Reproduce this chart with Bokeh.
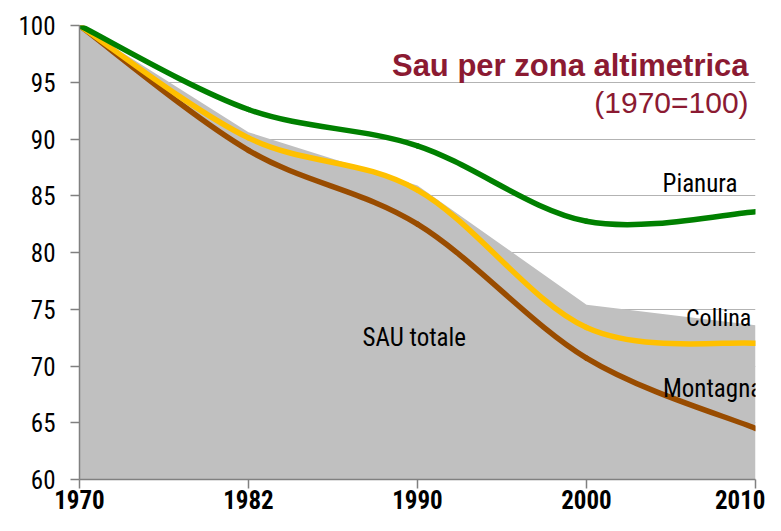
from bokeh.plotting import figure
from bokeh.models import FixedTicker, Label, Range1d
from bokeh.embed import file_html
from bokeh.resources import INLINE

years = ["1970", "1982", "1990", "2000", "2010"]
sau_totale = [100, 90.6, 85.9, 75.4, 73.6]
pianura = [100, 92.6, 89.4, 82.75, 83.6]
collina = [100, 90.1, 85.5, 73.4, 72.0]
montagna = [100, 89.0, 82.5, 70.7, 64.5]
y_ticks = [60, 65, 70, 75, 80, 85, 90, 95, 100]

NARROW = "Roboto Condensed"
SANS = "Liberation Sans"

xs = list(range(len(years)))

p = figure(width=765, height=515, output_backend="svg", toolbar_location=None,
           x_range=Range1d(0, len(years) - 1), y_range=Range1d(60, 100),
           min_border_left=79, min_border_right=10, min_border_top=25, min_border_bottom=36)
p.outline_line_color = None
p.background_fill_color = "white"
p.border_fill_color = "white"

p.xgrid.grid_line_color = None
p.ygrid.grid_line_color = "#b3b3b3"
p.ygrid.grid_line_width = 1
p.ygrid.ticker = FixedTicker(ticks=y_ticks)

# total area
p.varea(x=xs, y1=[60] * len(xs), y2=sau_totale, fill_color="#c0c0c0")


def smooth(ax, vals, color):
    n = len(vals)
    x0, y0, x1, y1, cx0, cy0, cx1, cy1 = [], [], [], [], [], [], [], []
    for i in range(n - 1):
        im = max(i - 1, 0)
        ip2 = min(i + 2, n - 1)
        x0.append(i); y0.append(vals[i])
        x1.append(i + 1); y1.append(vals[i + 1])
        cx0.append(i + (i + 1 - im) / 6.0); cy0.append(vals[i] + (vals[i + 1] - vals[im]) / 6.0)
        cx1.append(i + 1 - (ip2 - i) / 6.0); cy1.append(vals[i + 1] - (vals[ip2] - vals[i]) / 6.0)
    ax.bezier(x0=x0, y0=y0, x1=x1, y1=y1, cx0=cx0, cy0=cy0, cx1=cx1, cy1=cy1,
              line_color=color, line_width=5.5, line_cap="round")


smooth(p, montagna, "#994c00")
smooth(p, collina, "#ffc000")
smooth(p, pianura, "#008000")

# axes
p.yaxis.ticker = FixedTicker(ticks=y_ticks)
p.yaxis.axis_line_color = "#808080"
p.yaxis.axis_line_width = 1.5
p.yaxis.major_tick_line_color = "#808080"
p.yaxis.major_tick_line_width = 1.5
p.yaxis.major_tick_out = 9
p.yaxis.major_tick_in = 0
p.yaxis.minor_tick_line_color = None
p.yaxis.major_label_text_font = NARROW
p.yaxis.major_label_text_font_size = "25px"
p.yaxis.major_label_text_color = "black"
p.yaxis.major_label_standoff = 15

p.xaxis.ticker = FixedTicker(ticks=xs)
p.xaxis.major_label_overrides = {i: y for i, y in enumerate(years)}
p.xaxis.axis_line_color = "#808080"
p.xaxis.axis_line_width = 1.5
p.xaxis.major_tick_line_color = "#808080"
p.xaxis.major_tick_line_width = 1.5
p.xaxis.major_tick_out = 9
p.xaxis.major_tick_in = 0
p.xaxis.minor_tick_line_color = None
p.xaxis.major_label_text_font = NARROW
p.xaxis.major_label_text_font_size = "25px"
p.xaxis.major_label_text_font_style = "bold"
p.xaxis.major_label_text_color = "black"
p.xaxis.major_label_standoff = 1

# titles
p.add_layout(Label(x=3.959, y=96.5, text="Sau per zona altimetrica", text_align="right",
                   text_baseline="alphabetic", text_font=SANS, text_font_size="31px",
                   text_font_style="bold", text_color="#8b1a32"))
p.add_layout(Label(x=3.959, y=93.2, text="(1970=100)", text_align="right",
                   text_baseline="alphabetic", text_font=SANS, text_font_size="30px",
                   text_color="#8b1a32"))

# series labels
p.add_layout(Label(x=3.893, y=86.08, text="Pianura", text_align="right", text_baseline="middle",
                   text_font=NARROW, text_font_size="25px", text_color="black"))
p.add_layout(Label(x=3.975, y=74.19, text="Collina", text_align="right", text_baseline="middle",
                   text_font=NARROW, text_font_size="24px", text_color="black"))
p.add_layout(Label(x=4.04, y=68.0, text="Montagna", text_align="right", text_baseline="middle",
                   text_font=NARROW, text_font_size="25px", text_color="black"))
p.add_layout(Label(x=1.675, y=72.5, text="SAU totale", text_align="left", text_baseline="middle",
                   text_font=NARROW, text_font_size="25px", text_color="black"))

open("out.html", "w").write(file_html(p, INLINE))
